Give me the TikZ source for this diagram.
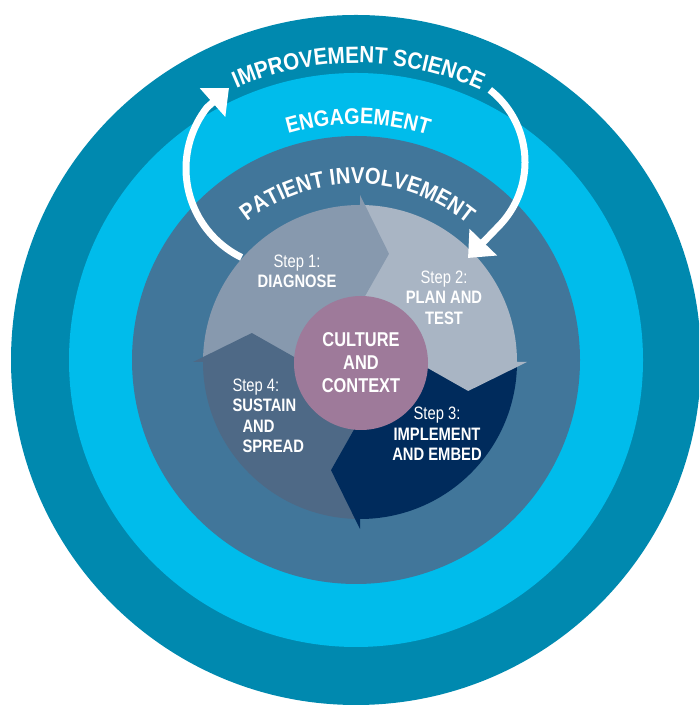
\documentclass[tikz,border=0pt]{standalone}
\usepackage{fontspec}
\newfontfamily\condfont[FakeStretch=0.82]{Liberation Sans}
\newfontfamily\ringfont[FakeStretch=0.88]{Liberation Sans}
\usetikzlibrary{arrows.meta, decorations.text}

\definecolor{outerteal}{HTML}{0089AF}
\definecolor{engblue}{HTML}{00BCEB}
\definecolor{patblue}{HTML}{41769A}
\definecolor{stepone}{HTML}{8799AE}
\definecolor{steptwo}{HTML}{A9B5C4}
\definecolor{stepthree}{HTML}{002B5C}
\definecolor{stepfour}{HTML}{4E6986}
\definecolor{culture}{HTML}{9E7A9A}

\begin{document}
\begin{tikzpicture}[x=1pt, y=1pt,
  steplabel/.style={text=white, align=center, font=\condfont\fontsize{18}{20.5}\selectfont},
  ringtext/.style={decorate, decoration={text along path, text align=center, text color=white, text={#1}}},
  loop arrow/.style={draw=white, line width=7, -{Triangle[length=22pt, width=37pt]}}]
\useasboundingbox (0,0) rectangle (699,706);
\clip (0,0) rectangle (699,706);

% Outer rings
\begin{scope}[shift={(356,346)}]
\fill[outerteal] (0,0) circle[radius=345];
\fill[engblue] (0,0) circle[radius=287];
\fill[patblue] (0,0) circle[radius=224];

\path[ringtext={|\ringfont\bfseries\fontsize{23.5}{24}\selectfont|IMPROVEMENT SCIENCE}]
  (149.5:297) arc[start angle=149.5, end angle=29.5, radius=297];
\path[ringtext={|\ringfont\bfseries\fontsize{22.5}{23}\selectfont|ENGAGEMENT}]
  (149.5:236) arc[start angle=149.5, end angle=29.5, radius=236];
\path[ringtext={|\ringfont\bfseries\fontsize{23}{23}\selectfont|PATIENT INVOLVEMENT}]
  (149.5:176) arc[start angle=149.5, end angle=29.5, radius=176];
\end{scope}

% Four steps
\begin{scope}[shift={(360,344)}]
\fill[stepone] (0,0) -- (180:157) arc[start angle=180, end angle=90, radius=157] -- cycle;
\fill[steptwo] (0,0) -- (90:157) arc[start angle=90, end angle=0, radius=157] -- cycle;
\fill[stepthree] (0,0) -- (0:157) arc[start angle=0, end angle=-90, radius=157] -- cycle;
\fill[stepfour] (0,0) -- (-90:157) arc[start angle=-90, end angle=-180, radius=157] -- cycle;

% arrow heads (with a small overlap back into their own step)
\fill[stepone] (92:157) arc[start angle=92, end angle=90, radius=157] -- (90:167) -- (75:112) -- (90:57) -- (92:57) -- cycle;
\fill[steptwo] (2:157) arc[start angle=2, end angle=0, radius=157] -- (0:167) -- (-15:112) -- (0:57) -- (2:57) -- cycle;
\fill[stepthree] (-88:157) arc[start angle=-88, end angle=-90, radius=157] -- (-90:167) -- (-105:112) -- (-90:57) -- (-88:57) -- cycle;
\fill[stepfour] (182:157) arc[start angle=182, end angle=180, radius=157] -- (180:167) -- (165:112) -- (180:57) -- (182:57) -- cycle;

\node[circle, fill=culture, minimum size=134, inner sep=0, text=white, align=center,
  font=\condfont\bfseries\fontsize{20}{23}\selectfont] (culture) at (1,-1) {CULTURE\\AND\\CONTEXT};

\node[steplabel] (diagnose) at (-63,90.5) {Step 1:\\\textbf{DIAGNOSE}};
\node[steplabel] (plantest) at (84,64.5) {Step 2:\\\textbf{PLAN AND}\\\textbf{TEST}};
\node[steplabel] (implement) at (77,-72) {Step 3:\\\textbf{IMPLEMENT}\\\textbf{AND EMBED}};
\node[steplabel, align=left, anchor=west] (sustain) at (-131,-54)
  {Step 4:\\\textbf{SUSTAIN}\\\hspace*{10pt}\textbf{AND}\\\hspace*{10pt}\textbf{SPREAD}};
\end{scope}

% Improvement loop
\coordinate (uptip) at (229,618);
\coordinate (downtip) at (468,448);
\draw[loop arrow] ([shift={(244:99)}]285,537.5) arc[start angle=244, end angle=142, radius=99] -- (uptip);
\draw[loop arrow] ([shift={(52:91.5)}]433.5,544) arc[start angle=52, end angle=-45, radius=91.5] -- (downtip);
\end{tikzpicture}
\end{document}
